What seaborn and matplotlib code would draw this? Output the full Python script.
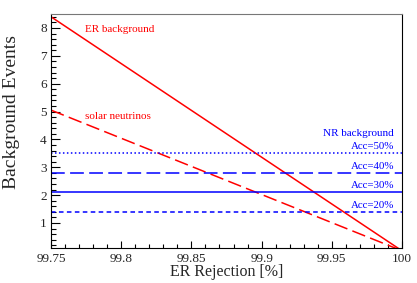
import matplotlib
matplotlib.use('Agg')
import matplotlib.pyplot as plt
import numpy as np
import pandas as pd
import seaborn as sns
from matplotlib.ticker import MultipleLocator

# chart values
REJECTION = [99.75, 100.0]
ER_BACKGROUND = [8.4, 0.0]
SOLAR_NEUTRINOS = [5.05, 0.0]
ACCEPTANCES = [50, 40, 30, 20]
NR_BACKGROUND = [3.5, 2.8, 2.1, 1.4]
NR_DASHES = [(1, 1.6), (9, 3.5), None, (3, 2.2)]

RED = '#ff0000'
BLUE = '#0000ff'


def main():
    sns.set_theme(style='white')
    plt.rcParams['font.family'] = ['Liberation Serif', 'DejaVu Serif']
    plt.rcParams['mathtext.fontset'] = 'stix'

    fig = plt.figure(figsize=(4.17, 2.83), dpi=100)
    ax = fig.add_axes([51 / 417, 1 - 248 / 283, 351 / 417, 234 / 283])

    df = pd.DataFrame({'x': REJECTION, 'er': ER_BACKGROUND, 'solar': SOLAR_NEUTRINOS})
    sns.lineplot(data=df, x='x', y='er', ax=ax, color=RED, lw=1.1)
    sns.lineplot(data=df, x='x', y='solar', ax=ax, color=RED, lw=1.1)
    ax.lines[-1].set_dashes((9, 3.5))

    for acc, level, dash in zip(ACCEPTANCES, NR_BACKGROUND, NR_DASHES):
        line = ax.axhline(level, color=BLUE, lw=1.1)
        if dash is not None:
            line.set_dashes(dash)
        ax.annotate(f'Acc={acc}%', xy=(0.977, level),
                    xycoords=('axes fraction', 'data'),
                    xytext=(0, 4.6), textcoords='offset points',
                    ha='right', va='center', color=BLUE, fontsize=7.8)

    ax.text(0.097, 0.932, 'ER background', transform=ax.transAxes,
            ha='left', va='center', color=RED, fontsize=8)
    ax.text(0.097, 0.564, 'solar neutrinos', transform=ax.transAxes,
            ha='left', va='center', color=RED, fontsize=8)
    ax.text(0.977, 0.491, 'NR background', transform=ax.transAxes,
            ha='right', va='center', color=BLUE, fontsize=8)

    ax.set_xlim(99.75, 100.0)
    ax.set_ylim(0.1, 8.5)
    ax.xaxis.set_minor_locator(MultipleLocator(0.01))
    ax.yaxis.set_minor_locator(MultipleLocator(0.2))
    ax.set_xticks(np.arange(99.75, 100.001, 0.05))
    ax.set_xticklabels(['99.75', '99.8', '99.85', '99.9', '99.95', '100'])
    ax.set_yticks(range(1, 9))
    ax.set_yticklabels([str(v) for v in range(1, 9)])

    ax.tick_params(axis='x', which='both', bottom=True, top=False,
                   direction='in', width=0.8, color='black')
    ax.tick_params(axis='y', which='both', left=True, right=False,
                   direction='in', width=0.8, color='black')
    ax.tick_params(axis='x', which='major', length=5.2, labelsize=9.5, pad=3.5)
    ax.tick_params(axis='x', which='minor', length=2.8)
    ax.tick_params(axis='y', which='major', length=6.5, labelsize=9.5, pad=3)
    ax.tick_params(axis='y', which='minor', length=3.5)

    for side, spine in ax.spines.items():
        spine.set_color('#777777' if side == 'top' else 'black')
        spine.set_linewidth(0.8)

    ax.set_xlabel('ER Rejection [%]', fontsize=11.5)
    ax.set_ylabel('Background Events', fontsize=14)
    ax.xaxis.set_label_coords(0.5, -0.07)
    ax.yaxis.set_label_coords(-0.088, 0.58)

    fig.savefig('out.png', dpi=100)
    plt.close(fig)


if __name__ == '__main__':
    main()
